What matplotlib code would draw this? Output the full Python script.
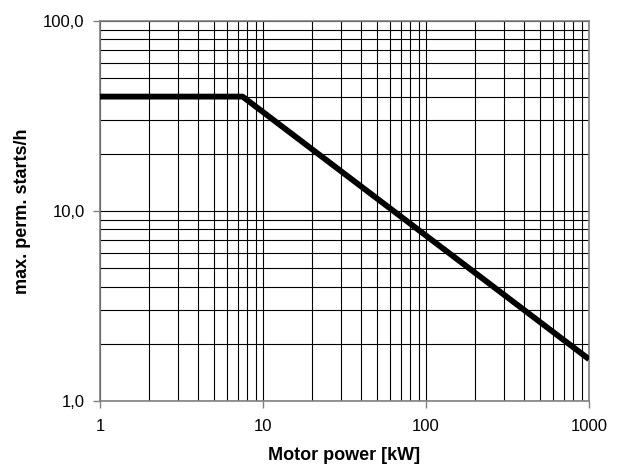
import matplotlib
matplotlib.use("Agg")
import matplotlib.pyplot as plt
from matplotlib.ticker import LogLocator, FixedLocator, FuncFormatter, NullFormatter

plt.rcParams['font.family'] = ['Liberation Sans', 'DejaVu Sans']

# values
power_kw = [1, 7.5, 1000]
starts_per_h = [40, 40, 1.66]

x_ticks = [1, 10, 100, 1000]
x_tick_labels = ["1", "10", "100", "1000"]
y_ticks = [1, 10, 100]
y_tick_labels = ["1,0", "10,0", "100,0"]

fig = plt.figure(figsize=(6.24, 4.68), dpi=100)
ax = fig.add_axes([100 / 624, 1 - 401 / 468, 489 / 624, 380 / 468])

ax.plot(power_kw, starts_per_h, color="black", linewidth=4.2, solid_capstyle="butt", zorder=3)

ax.set_xscale("log")
ax.set_yscale("log")
ax.set_xlim(1, 1000)
ax.set_ylim(1, 100)

ax.xaxis.set_major_locator(FixedLocator(x_ticks))
ax.xaxis.set_major_formatter(FuncFormatter(lambda v, p: x_tick_labels[x_ticks.index(round(v))] if round(v) in x_ticks else ""))
ax.yaxis.set_major_locator(FixedLocator(y_ticks))
ax.yaxis.set_major_formatter(FuncFormatter(lambda v, p: y_tick_labels[y_ticks.index(round(v))] if round(v) in y_ticks else ""))
ax.xaxis.set_minor_locator(LogLocator(base=10, subs=range(2, 10)))
ax.yaxis.set_minor_locator(LogLocator(base=10, subs=range(2, 10)))
ax.xaxis.set_minor_formatter(NullFormatter())
ax.yaxis.set_minor_formatter(NullFormatter())

ax.grid(True, which="both", color="black", linewidth=0.8)
ax.tick_params(which="major", direction="out", length=5, width=1, color="#808080", labelsize=12)
ax.tick_params(axis="x", which="major", pad=8)
ax.tick_params(axis="y", which="major", pad=6)
ax.tick_params(which="minor", length=0)
for s in ax.spines.values():
    s.set_color("#808080")
    s.set_linewidth(1.2)

ax.set_xlabel("Motor power [kW]", fontsize=13, fontweight="bold", labelpad=9)
ax.set_ylabel("max. perm. starts/h", fontsize=13, fontweight="bold", labelpad=9)

fig.savefig("out.png", dpi=100)
